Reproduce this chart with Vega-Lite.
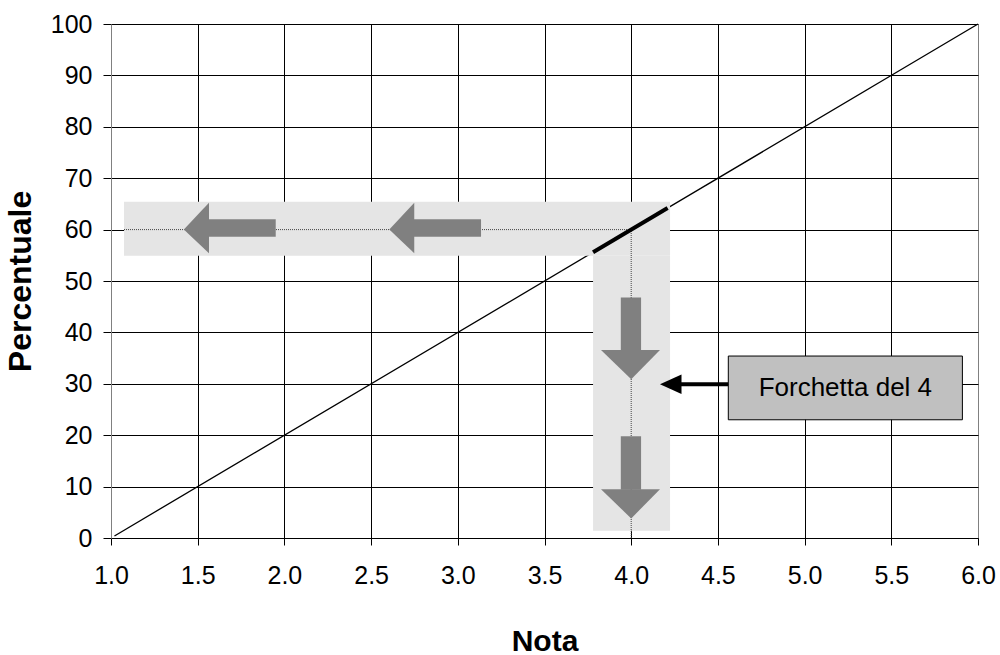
{
  "$schema": "https://vega.github.io/schema/vega-lite/v6.json",
  "autosize": "none",
  "width": 867,
  "height": 514,
  "padding": {"left": 111, "top": 24, "right": 22, "bottom": 117},
  "background": "white",
  "config": {
    "view": {"stroke": null},
    "font": "Liberation Sans",
    "axis": {
      "grid": true,
      "gridOpacity": 1,
      "gridWidth": 1,
      "domainColor": "#000000",
      "tickColor": "#000000",
      "labelColor": "#000000",
      "titleColor": "#000000",
      "labelFont": "Liberation Sans",
      "titleFont": "Liberation Sans",
      "labelFontSize": 25,
      "titleFontSize": 30,
      "titleFontWeight": "bold",
      "tickSize": 7,
      "labelFlush": false,
      "labelOverlap": false
    }
  },
  "datasets": {
    "diag": [{"x": 1.02, "y": 0.4}, {"x": 6.0, "y": 100}],
    "bands": [
      {"x": 1.075, "x2": 4.224, "y": 54.9, "y2": 65.4},
      {"x": 3.78, "x2": 4.224, "y": 1.4, "y2": 54.9}
    ],
    "dots": [
      {"x": 1.075, "x2": 4.0, "y": 60, "y2": 60},
      {"x": 4.0, "x2": 4.0, "y": 0, "y2": 60}
    ],
    "seg": [{"x": 3.78, "y": 55.6}, {"x": 4.21, "y": 64.2}],
    "shafts": [
      {"x": 1.56, "x2": 1.95, "y": 58.6, "y2": 62.0},
      {"x": 2.745, "x2": 3.134, "y": 58.6, "y2": 62.0},
      {"x": 3.94, "x2": 4.057, "y": 36.5, "y2": 46.8},
      {"x": 3.94, "x2": 4.057, "y": 9.4, "y2": 19.8}
    ],
    "leftHeads": [
      {"id": "a", "x": 1.42, "y": 60, "y2": 60},
      {"id": "a", "x": 1.565, "y": 65.2, "y2": 55.4},
      {"id": "b", "x": 2.605, "y": 60, "y2": 60},
      {"id": "b", "x": 2.749, "y": 65.2, "y2": 55.4}
    ],
    "downHeads": [
      {"id": "c", "y": 30.9, "x": 4.0, "x2": 4.0},
      {"id": "c", "y": 36.6, "x": 3.826, "x2": 4.166},
      {"id": "d", "y": 3.8, "x": 4.0, "x2": 4.0},
      {"id": "d", "y": 9.5, "x": 3.826, "x2": 4.166}
    ],
    "box": [{"x": 4.56, "x2": 5.91, "y": 23.0, "y2": 35.4, "label": "Forchetta del 4", "tx": 5.235, "ty": 29.2}],
    "pointer": [{"x": 4.28, "x2": 4.56, "y": 29.9}],
    "pointerHead": [
      {"x": 4.166, "y": 29.9, "y2": 29.9},
      {"x": 4.29, "y": 31.8, "y2": 28.0}
    ]
  },
  "encoding": {
    "x": {
      "field": "x",
      "type": "quantitative",
      "scale": {"domain": [1, 6], "nice": false, "zero": false},
      "axis": {
        "title": "Nota",
        "values": [1, 1.5, 2, 2.5, 3, 3.5, 4, 4.5, 5, 5.5, 6],
        "format": ".1f",
        "labelPadding": 18,
        "titlePadding": 38,
        "gridColor": {"condition": {"test": "datum.value >= 6", "value": "#808080"}, "value": "#000000"}
      }
    },
    "y": {
      "field": "y",
      "type": "quantitative",
      "scale": {"domain": [0, 100], "nice": false, "zero": false},
      "axis": {
        "title": "Percentuale",
        "titleFontSize": 32,
        "values": [0, 10, 20, 30, 40, 50, 60, 70, 80, 90, 100],
        "tickSize": 8,
        "labelPadding": 11,
        "titlePadding": 13,
        "domainColor": "#808080",
        "gridColor": "#000000"
      }
    }
  },
  "layer": [
    {
      "data": {"name": "diag"},
      "mark": {"type": "line", "color": "#000000", "strokeWidth": 1.3}
    },
    {
      "data": {"name": "bands"},
      "mark": {"type": "rect", "color": "#e5e5e5"},
      "encoding": {"x2": {"field": "x2"}, "y2": {"field": "y2"}}
    },
    {
      "data": {"name": "dots"},
      "mark": {"type": "rule", "color": "#444444", "strokeWidth": 1, "strokeDash": [1, 1]},
      "encoding": {"x2": {"field": "x2"}, "y2": {"field": "y2"}}
    },
    {
      "data": {"name": "seg"},
      "mark": {"type": "line", "color": "#000000", "strokeWidth": 4}
    },
    {
      "data": {"name": "shafts"},
      "mark": {"type": "rect", "color": "#808080"},
      "encoding": {"x2": {"field": "x2"}, "y2": {"field": "y2"}}
    },
    {
      "data": {"name": "leftHeads"},
      "mark": {"type": "area", "color": "#808080", "orient": "vertical"},
      "encoding": {"y2": {"field": "y2"}, "detail": {"field": "id"}}
    },
    {
      "data": {"name": "downHeads"},
      "mark": {"type": "area", "color": "#808080", "orient": "horizontal"},
      "encoding": {"x2": {"field": "x2"}, "detail": {"field": "id"}}
    },
    {
      "data": {"name": "pointer"},
      "mark": {"type": "rule", "color": "#000000", "strokeWidth": 4},
      "encoding": {"x2": {"field": "x2"}}
    },
    {
      "data": {"name": "pointerHead"},
      "mark": {"type": "area", "color": "#000000", "orient": "vertical"},
      "encoding": {"y2": {"field": "y2"}}
    },
    {
      "data": {"name": "box"},
      "mark": {"type": "rect", "fill": "#c0c0c0", "stroke": "#000000", "strokeWidth": 1},
      "encoding": {"x2": {"field": "x2"}, "y2": {"field": "y2"}}
    },
    {
      "data": {"name": "box"},
      "mark": {"type": "text", "fontSize": 26, "font": "Liberation Sans", "color": "#000000", "align": "center", "baseline": "middle"},
      "encoding": {
        "x": {"field": "tx", "type": "quantitative"},
        "y": {"field": "ty", "type": "quantitative"},
        "text": {"field": "label"}
      }
    }
  ]
}
